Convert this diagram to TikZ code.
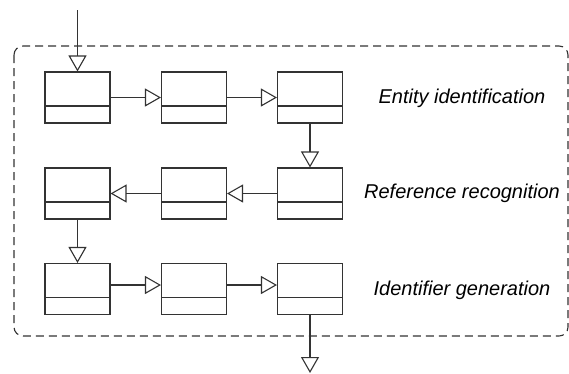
\documentclass[tikz,border=0pt]{standalone}
\usepackage{fontspec}
\setmainfont{Liberation Sans}
\usetikzlibrary{arrows.meta}
\definecolor{Wire}{HTML}{333333}

\begin{document}
\begin{tikzpicture}[x=1pt,y=-1pt,line width=1.1pt,
  cls/.style={draw=Wire,rectangle,minimum width=65pt,minimum height=51pt,inner sep=0pt,
   path picture={\draw[Wire,line width=1.1pt] ([yshift=17pt]path picture bounding box.south west)
   -- ([yshift=17pt]path picture bounding box.south east);}},
  flow/.style={draw=Wire,-{Triangle[open,length=16pt,width=18pt]}},
  stage/.style={font=\itshape\fontsize{20}{24}\selectfont}]
\useasboundingbox (0,0) rectangle (569,373);
\draw[Wire,dash pattern=on 8pt off 5pt,rounded corners=9pt] (14,46) rectangle (568,336);
\node[cls] (e1) at (77.5,97.5) {};
\node[cls] (e2) at (194,97.5) {};
\node[cls] (e3) at (310,97.5) {};
\node[cls] (r1) at (310,193.5) {};
\node[cls] (r2) at (194,193.5) {};
\node[cls] (r3) at (77.5,193.5) {};
\node[cls] (g1) at (77.5,289) {};
\node[cls] (g2) at (194,289) {};
\node[cls] (g3) at (310,289) {};
\coordinate (in) at (77.5,10);
\coordinate (out) at (310,373);
\draw[flow] (in)--(e1);
\draw[flow] (e1)--(e2);
\draw[flow] (e2)--(e3);
\draw[flow] (e3)--(r1);
\draw[flow] (r1)--(r2);
\draw[flow] (r2)--(r3);
\draw[flow] (r3)--(g1);
\draw[flow] ([yshift=4pt]g1.east)--([yshift=4pt]g2.west);
\draw[flow] ([yshift=4pt]g2.east)--([yshift=4pt]g3.west);
\draw[flow] (g3)--(out);
\node[stage] (lbe) at (462,98) {Entity identification};
\node[stage] (lbr) at (462,193) {Reference recognition};
\node[stage] (lbg) at (462,290) {Identifier generation};
\end{tikzpicture}
\end{document}
